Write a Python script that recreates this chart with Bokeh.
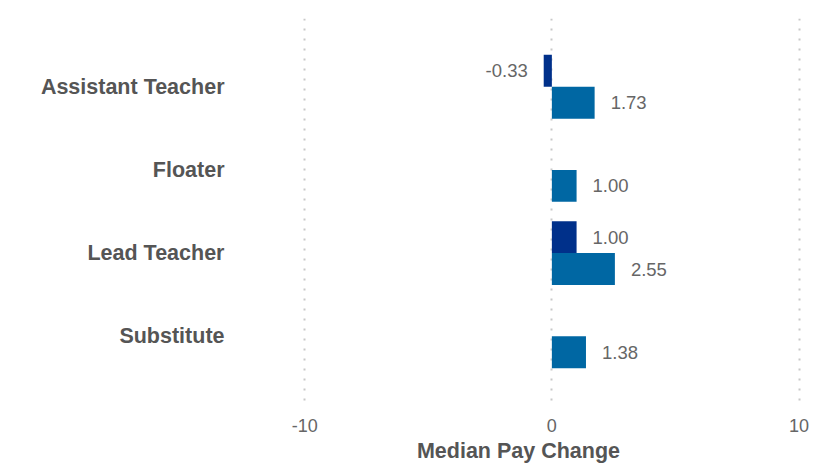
from bokeh.plotting import figure
from bokeh.models import ColumnDataSource, Range1d, FixedTicker
from bokeh.embed import file_html
from bokeh.resources import INLINE
from bokeh.core.properties import value

# ---- data ----
categories = ["Assistant Teacher", "Floater", "Lead Teacher", "Substitute"]
series_dark = [-0.33, None, 1.00, None]
series_mid = [1.73, 1.00, 2.55, 1.38]
x_ticks = [-10, 0, 10]
x_tick_labels = ["-10", "0", "10"]
axis_title = "Median Pay Change"

# ---- style ----
DARK = "#00308A"
MID = "#0067A3"
FONT = "Liberation Sans"
BAR_H = 0.384
OFF = 0.192

p = figure(width=825, height=465, output_backend="svg", toolbar_location=None,
           x_range=Range1d(-12.8, 10.1), y_range=Range1d(3.82, -0.82),
           min_border_left=235, min_border_right=24, min_border_top=18,
           min_border_bottom=58)
p.outline_line_color = None
p.background_fill_color = "white"
p.border_fill_color = "white"


def build(vals, offset):
    ys, xs = [], []
    for i, v in enumerate(vals):
        if v is None:
            continue
        ys.append(i + offset)
        xs.append(v)
    return ys, xs


for vals, off, col in [(series_dark, -OFF, DARK), (series_mid, OFF, MID)]:
    ys, xs = build(vals, off)
    src = ColumnDataSource(dict(y=ys, right=xs, left=[0] * len(xs)))
    p.hbar(y="y", left="left", right="right", height=BAR_H, source=src,
           fill_color=col, line_color=None)
    pos = [(y, x) for y, x in zip(ys, xs) if x >= 0]
    neg = [(y, x) for y, x in zip(ys, xs) if x < 0]
    for items, align, xo in [(pos, "left", 16), (neg, "right", -16)]:
        if not items:
            continue
        s = ColumnDataSource(dict(y=[a for a, b in items], x=[b for a, b in items],
                                  t=["%.2f" % b for a, b in items]))
        p.text(x="x", y="y", text="t", source=s, x_offset=xo,
               text_align=align, text_baseline="middle",
               text_font=value(FONT), text_font_size="18.5px", text_color="#666666")

# grid
p.ygrid.visible = False
p.xgrid.ticker = FixedTicker(ticks=x_ticks)
p.xgrid.grid_line_color = "#c8c8c8"
p.xgrid.grid_line_width = 2
p.xgrid.grid_line_dash = "2 8"

# x axis
xa = p.xaxis[0]
xa.ticker = FixedTicker(ticks=x_ticks)
xa.major_label_overrides = {t: l for t, l in zip(x_ticks, x_tick_labels)}
xa.axis_line_color = None
xa.major_tick_line_color = None
xa.minor_tick_line_color = None
xa.major_tick_in = 0
xa.major_tick_out = 0
xa.major_label_text_font = FONT
xa.major_label_text_font_size = "18px"
xa.major_label_text_color = "#666666"
xa.major_label_standoff = 14
xa.axis_label = axis_title
xa.axis_label_text_font = FONT
xa.axis_label_text_font_size = "21.5px"
xa.axis_label_text_font_style = "bold"
xa.axis_label_text_color = "#555555"
xa.axis_label_standoff = 4

# y axis
ya = p.yaxis[0]
ya.ticker = FixedTicker(ticks=list(range(len(categories))))
ya.major_label_overrides = {i: c for i, c in enumerate(categories)}
ya.axis_line_color = None
ya.major_tick_line_color = None
ya.minor_tick_line_color = None
ya.major_tick_in = 0
ya.major_tick_out = 0
ya.major_label_text_font = FONT
ya.major_label_text_font_size = "21.5px"
ya.major_label_text_font_style = "bold"
ya.major_label_text_color = "#555555"
ya.major_label_standoff = 11

open("out.html", "w").write(file_html(p, INLINE))
